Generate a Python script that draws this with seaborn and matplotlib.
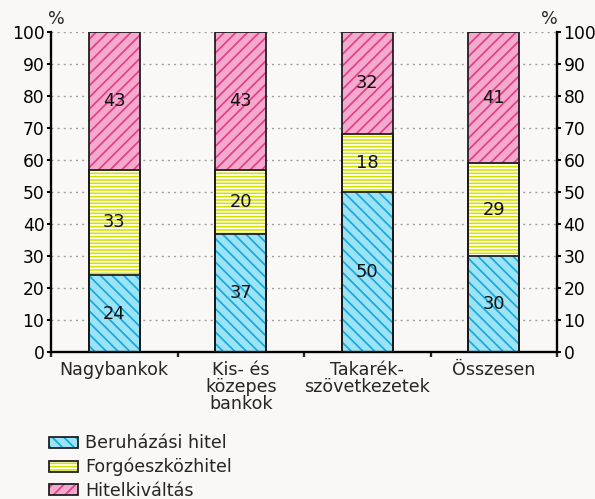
import numpy as np
import pandas as pd
import matplotlib
matplotlib.use("Agg")
import matplotlib.pyplot as plt
import seaborn as sb
from matplotlib.patches import Patch
from matplotlib.ticker import FixedLocator, MultipleLocator

categories = ["Nagybankok", "Kis- és\nközepes\nbankok", "Takarék-\nszövetkezetek", "Összesen"]
beruhazasi = [24, 37, 50, 30]
forgoeszkoz = [33, 20, 18, 29]
hitelkivaltas = [43, 43, 32, 41]
series_names = ["Beruházási hitel", "Forgóeszközhitel", "Hitelkiváltás"]

fills = ["#9be3f5", "#d3df00", "#f5a9cd"]
hatchcols = ["#1aa9dc", "#ffffff", "#e2408a"]
hatches = ["\\\\\\\\", "-------", "////"]

bg = "#f9f8f6"
DPI = 140

sb.set_style("white")
plt.rcParams["font.family"] = ["DejaVu Sans"]
plt.rcParams["hatch.linewidth"] = 0.9
plt.rcParams["font.size"] = 9

series = [beruhazasi, forgoeszkoz, hitelkivaltas]
cums = np.cumsum(np.array(series), axis=0)
df = pd.DataFrame({"cat": categories})
for i in range(3):
	df[f"c{i}"] = cums[i]

fig = plt.figure(figsize=(595/DPI, 499/DPI), dpi=DPI, facecolor=bg)
ax = fig.add_axes([51/595, 1-352/499, 506/595, 320/499])
ax.set_facecolor(bg)

# gridlines behind bars
ax.set_axisbelow(True)
ax.yaxis.grid(True, color="#a0a0a0", linestyle=(0, (1.5, 3)), linewidth=0.7)

# stacked bars drawn as overlays, tallest first
for i in [2, 1, 0]:
	sb.barplot(data=df, x="cat", y=f"c{i}", order=categories, color=fills[i], saturation=1,
		width=0.4, hatch=hatches[i], edgecolor=hatchcols[i], linewidth=0, ax=ax, zorder=2)
for i in [2, 1, 0]:
	sb.barplot(data=df, x="cat", y=f"c{i}", order=categories, fill=False, saturation=1,
		width=0.4, edgecolor="#1a1a1a", linewidth=0.9, ax=ax, zorder=3)

# segment labels
for i in range(3):
	bottoms = cums[i] - np.array(series[i])
	for j, v in enumerate(series[i]):
		ax.text(j, bottoms[j] + v/2, str(v), ha="center", va="center", fontsize=9.2, color="#111111", zorder=5)

ax.set_xlim(-0.5, 3.5)
ax.set_ylim(0, 100)
ax.yaxis.set_major_locator(MultipleLocator(10))
ax.set_xlabel("")
ax.set_ylabel("")

for s in ["left", "right", "bottom"]:
	ax.spines[s].set_visible(True)
	ax.spines[s].set_linewidth(1.2)
	ax.spines[s].set_color("black")
ax.spines["top"].set_visible(False)

ax.tick_params(axis="y", which="major", left=True, right=True, labelleft=True, labelright=True,
	direction="out", length=2.2, width=1, pad=1.2, labelsize=8.8, colors="black")
ax.xaxis.set_minor_locator(FixedLocator([-0.5, 0.5, 1.5, 2.5, 3.5]))
ax.tick_params(axis="x", which="major", length=0, pad=4.5, labelsize=9)
ax.tick_params(axis="x", which="minor", bottom=True, direction="out", length=2.5, width=1.2)
for lbl in ax.get_xticklabels():
	lbl.set_linespacing(0.92)

fig.text(56/595, 1-19/499, "%", ha="center", va="center", fontsize=9)
fig.text(549/595, 1-19/499, "%", ha="center", va="center", fontsize=9)

handles = [(Patch(facecolor=fills[i], edgecolor=hatchcols[i], hatch=hatches[i], linewidth=0),
	Patch(facecolor="none", edgecolor="#1a1a1a", linewidth=0.9)) for i in range(3)]
fig.legend(handles, series_names, loc="lower left", bbox_to_anchor=(42/595, -8/499), frameon=False,
	fontsize=9, handlelength=1.65, handleheight=0.6, handletextpad=0.4, labelspacing=0.32,
	borderaxespad=0.0)

fig.savefig("out.png", dpi=DPI, facecolor=bg)
